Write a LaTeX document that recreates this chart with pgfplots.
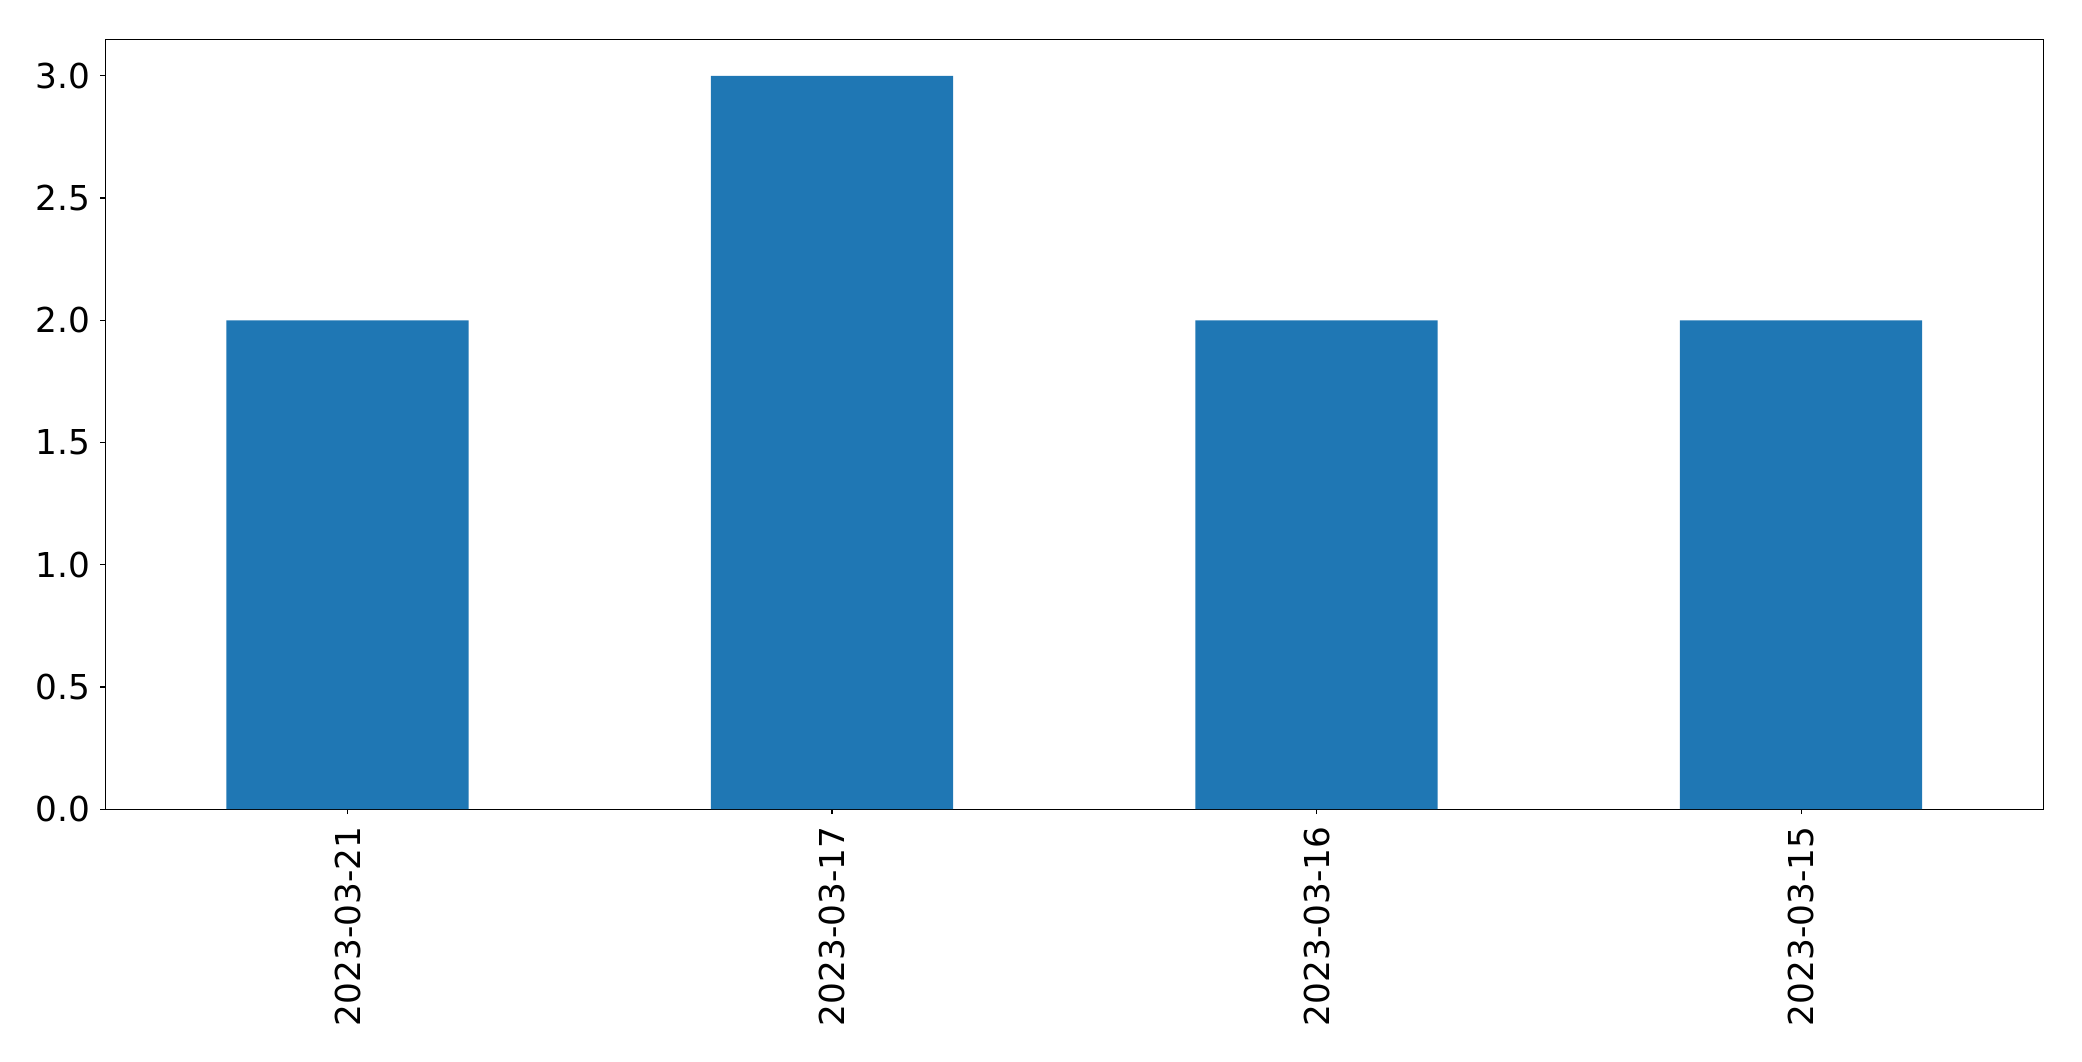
\documentclass[border=0pt]{standalone}
\usepackage{fontspec}
\setmainfont{DejaVu Sans}
\usepackage{pgfplots}
\pgfplotsset{compat=1.18}
\definecolor{mplblue}{HTML}{1F77B4}
\begin{document}
\begin{tikzpicture}
\path (-75.8bp,-181.4bp) rectangle (1423.2bp,582.6bp);
\begin{axis}[
  at={(0,0)}, anchor=south west,
  scale only axis,
  width=1395.4bp, height=554.4bp,
  xmin=-0.5, xmax=3.5, ymin=0, ymax=3.15,
  axis line style={line width=0.8bp},
  every tick/.style={line width=0.8bp, black},
  tick align=outside, major tick length=3.5bp,
  xtick pos=bottom, ytick pos=left,
  xtick={0,1,2,3},
  xticklabels={2023-03-21,2023-03-17,2023-03-16,2023-03-15},
  ytick={0,0.5,1,1.5,2,2.5,3},
  yticklabel style={/pgf/number format/fixed, /pgf/number format/fixed zerofill, /pgf/number format/precision=1},
  /pgf/number format/assume math mode=true,
  tick label style={font=\fontsize{24.7bp}{29bp}\selectfont},
  xticklabel style={rotate=90, anchor=east, inner sep=0pt},
  yticklabel style={inner sep=0pt},
  xticklabel shift=9bp, yticklabel shift=7bp,
]
\addplot[ybar, bar width=174.4bp, fill=mplblue, draw=none] coordinates {(0,2) (1,3) (2,2) (3,2)};
\end{axis}
\end{tikzpicture}
\end{document}
